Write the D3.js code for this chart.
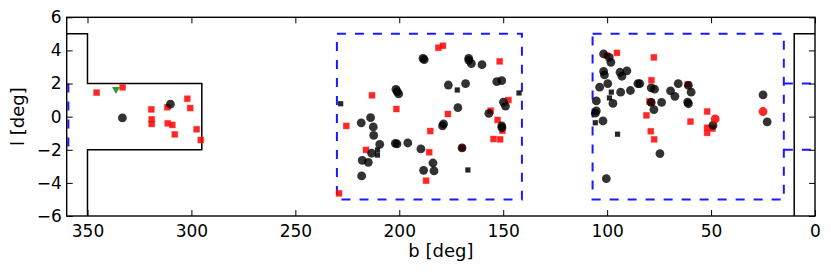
<!DOCTYPE html>
<html>
<head>
<meta charset="utf-8">
<script src="https://cdn.jsdelivr.net/npm/d3@7"></script>
<style>
  body { margin: 0; background: #fff; }
  text { font-family: "DejaVu Sans", sans-serif; }
</style>
</head>
<body>
<svg id="chart" width="831" height="273"></svg>
<script>
// tick values
const bTicks = [350, 300, 250, 200, 150, 100, 50, 0];
const lTicks = [6, 4, 2, 0, -2, -4, -6];

// survey outlines [b, l]
const solidLeft = [[360, 5], [350, 5], [350, 2], [295, 2], [295, -2], [350, -2], [350, -6]];
const solidRight = [[10, -6], [10, 5], [0, 5]];
const dashBoxMid = [[230, 5], [141, 5], [141, -5], [230, -5], [230, 5]];
const dashBoxRight = [[107, 5], [15, 5], [15, -5], [107, -5], [107, 5]];
const dashEdges = [
  [[359.2, 2], [359.2, -2]],
  [[15, 2], [0, 2]],
  [[15, -2], [0, -2]]
];

// sources [b, l]
const redSquares = [
  [345.6, 1.45], [333.1, 1.77], [319.3, 0.44], [311.6, 0.57], [319.1, -0.16], [319.1, -0.44],
  [311.4, -0.40], [309.2, -0.50], [308.0, -1.07], [302.0, 1.08], [300.6, 0.52], [297.5, -0.76],
  [295.5, -1.41],
  [229.0, -4.63], [225.5, -0.56], [213.1, 1.29], [201.4, 0.46], [181.2, 4.16], [179.0, 4.28],
  [151.7, 3.34], [176.6, 0.16], [185.1, -0.87], [216.0, -2.01], [185.6, -2.15], [187.1, -3.87],
  [156.0, 0.36], [152.7, -0.20], [150.4, -0.85], [154.7, -1.35], [151.5, -1.37], [147.5, 1.00],
  [169.8, -1.89],
  [95.3, 3.85], [100.1, 3.69], [77.5, 3.58], [78.7, 2.20], [79.6, 0.92], [81.1, 0.08], [79.0, -0.88],
  [77.4, -1.37], [59.9, -0.30], [51.9, 0.31], [51.9, -0.67], [51.9, -0.98], [49.3, -0.72],
  [61.2, 1.95], [78.8, 0.86]
];
const blackCircles = [
  [333.2, -0.08], [310.1, 0.75],
  [218.3, -0.37], [213.8, -0.06], [212.5, -0.62], [212.3, -1.13], [209.4, -1.67], [213.3, -2.21],
  [217.8, -2.64], [214.9, -2.76], [218.1, -3.58], [201.6, 1.65], [201.0, 1.51], [200.3, 1.37],
  [201.9, -1.61], [201.1, -1.65], [195.9, -1.59], [189.6, -1.95], [188.3, -3.24], [183.8, -2.80],
  [183.3, -3.28], [188.6, 3.52], [188.0, 3.44], [179.2, -0.56], [178.7, -0.44], [176.4, 1.91],
  [168.1, 1.99], [171.8, 0.54], [169.8, -1.89], [166.6, 3.52], [166.5, 3.40], [165.3, 3.20],
  [160.2, 3.14], [153.1, 2.11], [150.7, 2.17], [149.9, 0.88], [148.9, 0.64], [156.9, 0.20],
  [150.7, -0.56], [150.6, -0.67],
  [101.7, 3.79], [99.0, 3.58], [98.2, 3.28], [101.7, 2.73], [101.3, 2.52], [99.7, 1.99],
  [103.6, 1.78], [93.8, 2.68], [92.9, 2.44], [90.5, 2.77], [93.5, 1.48], [88.8, 1.58],
  [85.2, 1.99], [84.3, 1.99], [78.8, 1.74], [77.2, 1.66], [78.8, 0.86], [77.5, 0.43],
  [73.8, 0.86], [69.5, 1.56], [67.4, 1.23], [65.8, 1.99], [60.9, 1.89], [59.6, 1.48],
  [61.3, 0.88], [60.9, 0.78], [105.2, 0.95], [105.2, 0.35], [105.7, 0.21], [102.0, -0.26],
  [97.2, 0.80], [100.4, -3.74], [74.6, -2.23], [49.1, -0.53], [25.0, 1.31], [23.0, -0.32]
];
const blackSquares = [
  [228.2, 0.78], [172.1, 1.61], [142.4, 1.43], [210.5, -2.01], [210.5, -2.32], [167.0, -3.22],
  [98.0, 1.48], [98.9, 1.13], [105.7, -0.37], [95.0, -1.06]
];
const redCircles = [[48.0, -0.14], [25.0, 0.31]];
const greenTriangles = [[336.3, 1.65]];

const svg = d3.select('#chart');
const mLeft = 66.7, mRight = 815, mTop = 17.3, mBottom = 216;

const x = d3.scaleLinear().domain([360, 0]).range([mLeft, mRight]);
const y = d3.scaleLinear().domain([6, -6]).range([mTop, mBottom]);

const plot = svg.append('g');
plot.append('clipPath').attr('id', 'clip')
  .append('rect')
  .attr('x', mLeft).attr('y', mTop)
  .attr('width', mRight - mLeft).attr('height', mBottom - mTop);

const line = d3.line().x(d => x(d[0])).y(d => y(d[1]));
const inner = plot.append('g').attr('clip-path', 'url(#clip)');

// solid outlines
[solidLeft, solidRight].forEach(p => {
  inner.append('path').attr('d', line(p))
    .attr('fill', 'none').attr('stroke', '#000').attr('stroke-width', 1.5);
});

// dashed boxes
[dashBoxMid, dashBoxRight].concat(dashEdges).forEach(p => {
  inner.append('path').attr('d', line(p))
    .attr('fill', 'none').attr('stroke', '#1a1aff').attr('stroke-width', 2)
    .attr('stroke-dasharray', '9,9');
});

// markers
inner.selectAll('rect.rs').data(redSquares).enter().append('rect')
  .attr('class', 'rs')
  .attr('x', d => x(d[0]) - 3).attr('y', d => y(d[1]) - 3)
  .attr('width', 6).attr('height', 6)
  .attr('fill', '#ff0000').attr('fill-opacity', 0.85)
  .attr('stroke', '#ff3030').attr('stroke-opacity', 0.5).attr('stroke-width', 0.8);

inner.selectAll('circle.bc').data(blackCircles).enter().append('circle')
  .attr('class', 'bc')
  .attr('cx', d => x(d[0])).attr('cy', d => y(d[1]))
  .attr('r', 4.4)
  .attr('fill', '#000').attr('fill-opacity', 0.8);

inner.selectAll('rect.bs').data(blackSquares).enter().append('rect')
  .attr('class', 'bs')
  .attr('x', d => x(d[0]) - 2.6).attr('y', d => y(d[1]) - 2.6)
  .attr('width', 5.2).attr('height', 5.2)
  .attr('fill', '#000').attr('fill-opacity', 0.85);

inner.selectAll('circle.rc').data(redCircles).enter().append('circle')
  .attr('class', 'rc')
  .attr('cx', d => x(d[0])).attr('cy', d => y(d[1]))
  .attr('r', 4.4)
  .attr('fill', '#ff0000').attr('fill-opacity', 0.85);

inner.selectAll('path.gt').data(greenTriangles).enter().append('path')
  .attr('class', 'gt')
  .attr('d', d3.symbol().type(d3.symbolTriangle).size(28))
  .attr('transform', d => `translate(${x(d[0])},${y(d[1])}) rotate(180)`)
  .attr('fill', '#1f8f1f').attr('fill-opacity', 0.9);

// axes, ticks pointing inward on all sides
const fmt = d3.format('d');
svg.append('g').attr('transform', `translate(0,${mBottom})`)
  .call(d3.axisBottom(x).tickValues(bTicks).tickSizeInner(-6).tickSizeOuter(0).tickPadding(9).tickFormat(fmt))
  .call(g => g.select('.domain').remove())
  .call(g => g.selectAll('text').attr('font-size', 17).attr('fill', '#000'));
svg.append('g').attr('transform', `translate(0,${mTop})`)
  .call(d3.axisTop(x).tickValues(bTicks).tickSizeInner(-6).tickSizeOuter(0).tickFormat(''))
  .call(g => g.select('.domain').remove());
svg.append('g').attr('transform', `translate(${mLeft},0)`)
  .call(d3.axisLeft(y).tickValues(lTicks).tickSizeInner(-6).tickSizeOuter(0).tickPadding(5).tickFormat(fmt))
  .call(g => g.select('.domain').remove())
  .call(g => g.selectAll('text').attr('font-size', 17).attr('fill', '#000'));
svg.append('g').attr('transform', `translate(${mRight},0)`)
  .call(d3.axisRight(y).tickValues(lTicks).tickSizeInner(-6).tickSizeOuter(0).tickFormat(''))
  .call(g => g.select('.domain').remove());

svg.selectAll('.tick line').attr('stroke', '#000').attr('stroke-width', 1);

svg.append('rect')
  .attr('x', mLeft).attr('y', mTop)
  .attr('width', mRight - mLeft).attr('height', mBottom - mTop)
  .attr('fill', 'none').attr('stroke', '#000').attr('stroke-width', 1.4);

svg.append('text')
  .attr('x', (mLeft + mRight) / 2).attr('y', 257)
  .attr('text-anchor', 'middle').attr('font-size', 18)
  .text('b [deg]');
svg.append('text')
  .attr('transform', `translate(24,${(mTop + mBottom) / 2}) rotate(-90)`)
  .attr('text-anchor', 'middle').attr('font-size', 18)
  .text('l [deg]');
</script>
</body>
</html>
